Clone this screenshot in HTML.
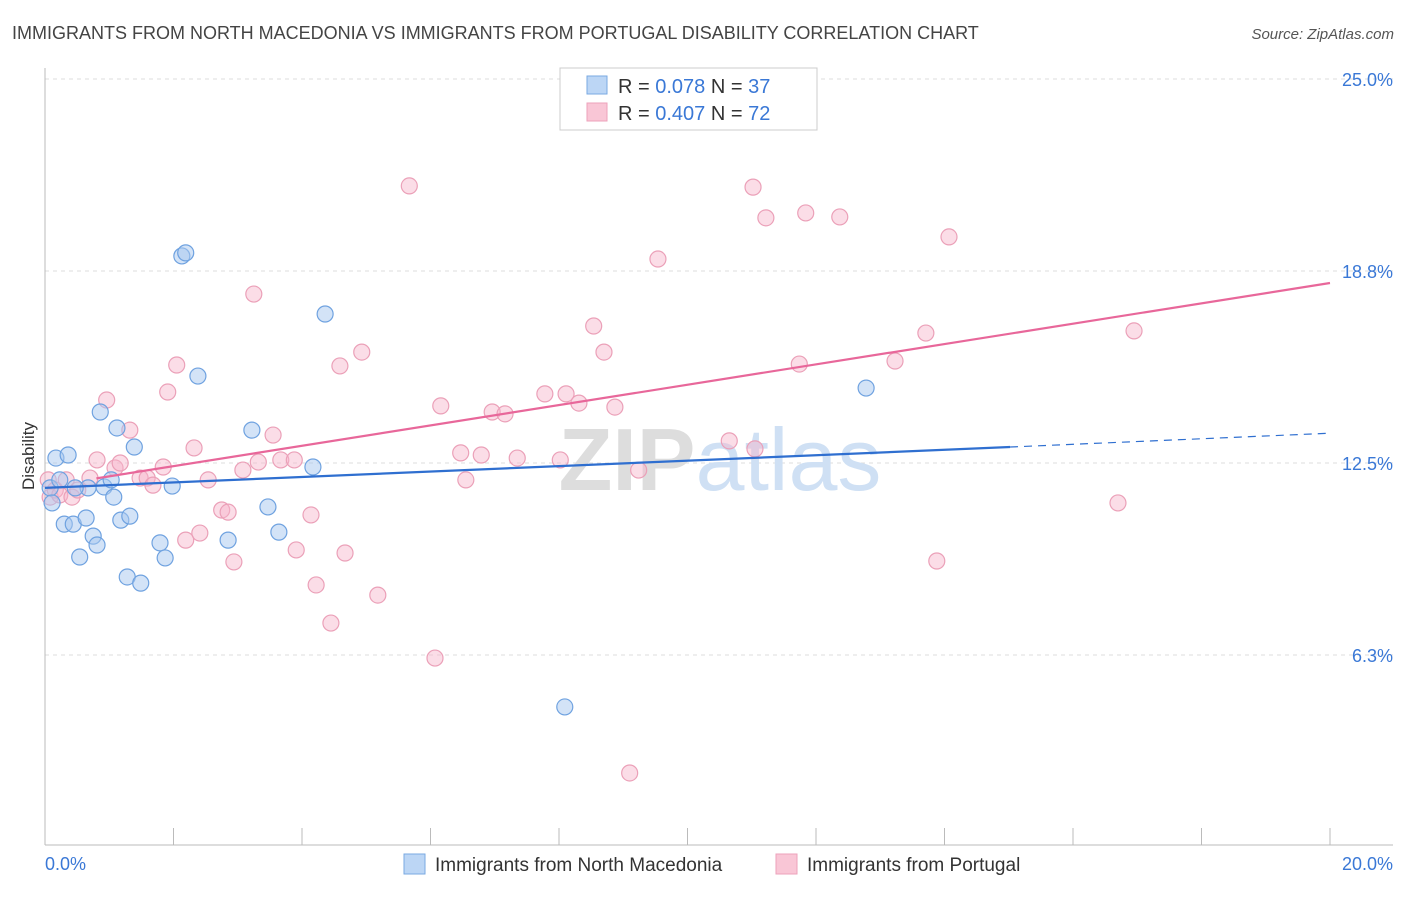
<!DOCTYPE html>
<html><head><meta charset="utf-8"><style>
body{margin:0;background:#fff;font-family:"Liberation Sans",sans-serif}
svg text{font-family:"Liberation Sans",sans-serif}
</style></head><body>
<svg id="chart" width="1406" height="892" viewBox="0 0 1406 892" xmlns="http://www.w3.org/2000/svg">
<text x="12" y="39" font-size="18" fill="#444">IMMIGRANTS FROM NORTH MACEDONIA VS IMMIGRANTS FROM PORTUGAL DISABILITY CORRELATION CHART</text>
<text x="1394" y="39" font-size="15" fill="#555" text-anchor="end" font-style="italic">Source: ZipAtlas.com</text>
<g id="grid"></g>
<text x="720" y="490" font-size="88" text-anchor="middle" fill="#ddd" font-family="Liberation Serif" font-weight="bold">ZIP<tspan fill="#cfe0f4" font-family="Liberation Sans" font-weight="normal">atlas</tspan></text>
<text transform="translate(34,456) rotate(-90)" font-size="17" fill="#333" text-anchor="middle">Disability</text>
<g id="pts"></g>
<g id="trend"></g>
<g>
<rect x="560" y="68" width="257" height="62" fill="#fff" stroke="#ccc"/>
<rect x="587" y="76" width="20" height="18" fill="#bcd6f5" stroke="#7aa9e2"/>
<rect x="587" y="103" width="20" height="18" fill="#f9c6d6" stroke="#eda2bb"/>
<text x="618" y="93" font-size="20" fill="#333">R = <tspan fill="#3a78d6">0.078</tspan>   N = <tspan fill="#3a78d6">37</tspan></text>
<text x="618" y="120" font-size="20" fill="#333">R = <tspan fill="#3a78d6">0.407</tspan>   N = <tspan fill="#3a78d6">72</tspan></text>
</g>
<g>
<rect x="404" y="854" width="21" height="20" fill="#bcd6f5" stroke="#7aa9e2"/>
<text x="435" y="871" font-size="19" fill="#333">Immigrants from North Macedonia</text>
<rect x="776" y="854" width="21" height="20" fill="#f9c6d6" stroke="#eda2bb"/>
<text x="807" y="871" font-size="19" fill="#333">Immigrants from Portugal</text>
</g>
</svg>
<script>
const yTicks=[25,18.75,12.5,6.25];
const yTickLabels=["25.0%","18.8%","12.5%","6.3%"];
const xTickLabels=["0.0%","20.0%"];
const blueX=[0.08,0.11,0.17,0.23,0.36,0.30,0.44,0.54,0.64,0.67,0.75,0.81,0.86,0.92,1.03,1.07,1.12,1.18,1.28,1.32,1.39,1.49,1.79,1.87,1.98,2.13,2.19,2.38,2.85,3.22,3.47,3.64,4.17,4.36,8.09,12.78,0.47];
const blueY=[11.69,11.20,12.66,11.95,12.76,10.51,10.51,9.44,10.71,11.69,10.12,9.83,14.16,11.72,11.95,11.39,13.64,10.64,8.79,10.77,13.02,8.59,9.90,9.41,11.75,19.24,19.34,15.33,9.99,13.57,11.07,10.25,12.37,17.35,4.56,14.94,11.69];
const pinkX=[0.05,0.08,0.16,0.23,0.33,0.42,0.51,0.70,0.81,0.96,1.09,1.17,1.32,1.48,1.59,1.68,1.84,1.91,2.05,2.19,2.32,2.41,2.54,2.75,2.85,2.94,3.08,3.25,3.32,3.55,3.67,3.88,3.91,4.14,4.22,4.45,4.59,4.67,4.93,5.18,5.67,6.07,6.16,6.47,6.55,6.79,6.96,7.16,7.35,7.78,8.02,8.11,8.31,8.54,8.70,8.87,9.10,9.24,9.54,10.65,11.02,11.05,11.22,11.74,11.84,12.37,13.23,13.71,13.88,14.07,16.70,16.95];
const pinkY=[11.95,11.39,11.62,11.46,11.95,11.39,11.62,12.01,12.60,14.55,12.34,12.50,13.57,12.01,12.01,11.78,12.37,14.81,15.69,9.99,12.99,10.22,11.95,10.97,10.90,9.28,12.27,18.00,12.53,13.41,12.60,12.60,9.67,10.81,8.53,7.29,15.66,9.57,16.11,8.20,21.52,6.15,14.36,12.83,11.95,12.76,14.16,14.10,12.66,14.75,12.60,14.75,14.45,16.96,16.11,14.32,2.41,12.27,19.14,13.22,21.48,12.96,20.48,15.72,20.64,20.51,15.82,16.73,9.31,19.86,11.20,16.80];
const blueTrend=[[0,11.69],[15.02,13.02],[20,13.47]];
const pinkTrend=[[0.8,12.0],[20,18.36]];
const NS='http://www.w3.org/2000/svg';
const X=v=>45+v/20*1285, Y=v=>847-v/6.25*192;
function mk(t,a,p){const e=document.createElementNS(NS,t);for(const k in a)e.setAttribute(k,a[k]);p.appendChild(e);return e;}
const g=document.getElementById('grid');
yTicks.forEach((t,i)=>{
 const l=mk('line',{x1:45,x2:1393,y1:Y(t),y2:Y(t),stroke:'#ddd','stroke-dasharray':'4,4'},g);
 
 
 const tx=mk('text',{x:1393,y:Y(t)+7,'font-size':18,fill:'#3a78d6','text-anchor':'end'},g);tx.textContent=yTickLabels[i];
 
 
});
mk('line',{x1:45,x2:45,y1:68,y2:845,stroke:'#bbb'},g);
mk('line',{x1:45,x2:1393,y1:845,y2:845,stroke:'#bbb'},g);
for(let i=0;i<=10;i++){const t=mk('line',{x1:X(i*2),x2:X(i*2),y1:828,y2:845,stroke:'#bbb'},g);
 
 }
[[0,'start',45],[1,'end',1393]].forEach(([i,a,x])=>{const t=mk('text',{x:x,y:870,'font-size':18,fill:'#3a78d6','text-anchor':a},g);t.textContent=xTickLabels[i];
 
 });
const p=document.getElementById('pts');
pinkX.forEach((x,i)=>{const c=mk('circle',{cx:X(x),cy:Y(pinkY[i]),r:8,fill:'rgba(246,180,201,0.45)',stroke:'#eba0b8','stroke-width':1.2},p);
 
 });
blueX.forEach((x,i)=>{const c=mk('circle',{cx:X(x),cy:Y(blueY[i]),r:8,fill:'rgba(168,200,240,0.5)',stroke:'#6fa2e0','stroke-width':1.2},p);
 
 });
const tr=document.getElementById('trend');
let l1=mk('line',{x1:X(blueTrend[0][0]),y1:Y(blueTrend[0][1]),x2:X(blueTrend[1][0]),y2:Y(blueTrend[1][1]),stroke:'#2f6fd0','stroke-width':2.2},tr);


let l2=mk('line',{x1:X(blueTrend[1][0]),y1:Y(blueTrend[1][1]),x2:X(blueTrend[2][0]),y2:Y(blueTrend[2][1]),stroke:'#2f6fd0','stroke-width':1.2,'stroke-dasharray':'8,6'},tr);


let l3=mk('line',{x1:X(pinkTrend[0][0]),y1:Y(pinkTrend[0][1]),x2:X(pinkTrend[1][0]),y2:Y(pinkTrend[1][1]),stroke:'#e8679a','stroke-width':2.2},tr);


</script>
</body></html>
